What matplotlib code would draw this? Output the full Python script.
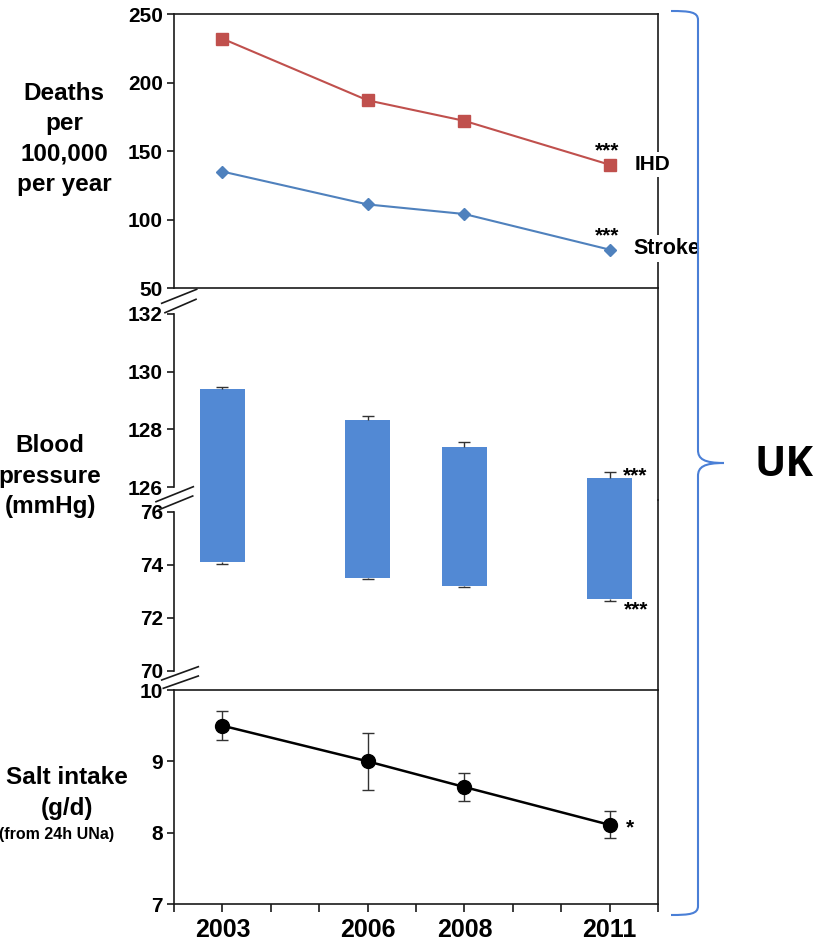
import matplotlib
matplotlib.use('Agg')
import matplotlib.pyplot as plt
import numpy as np
from matplotlib.path import Path
from matplotlib.patches import PathPatch
from matplotlib.lines import Line2D

plt.rcParams['font.family'] = ['Liberation Sans', 'DejaVu Sans']
plt.rcParams['font.weight'] = 'bold'

# ---------------- data ----------------
years = [2003, 2006, 2008, 2011]
year_labels = ['2003', '2006', '2008', '2011']
ihd = [232, 187, 172, 140]
stroke = [135, 111, 104, 78]
sbp = [129.39, 128.33, 127.40, 126.33]
sbp_err = [0.09, 0.14, 0.17, 0.19]
dbp = [74.12, 73.51, 73.21, 72.71]
dbp_err = [0.07, 0.06, 0.06, 0.08]
salt = [9.5, 9.0, 8.64, 8.11]
salt_err = [0.2, 0.4, 0.2, 0.19]

W, H = 818, 943
fig = plt.figure(figsize=(W / 100, H / 100), dpi=100)


def rect(x0, y0, x1, y1):
    return [x0 / W, 1 - y1 / H, (x1 - x0) / W, (y1 - y0) / H]


def P(x, y):
    return (x / W, 1 - y / H)


SPC = '#1a1a1a'
LW = 1.2
TICKFS = 15

ax1 = fig.add_axes(rect(174, 14, 658, 288))
ax2 = fig.add_axes(rect(174, 288, 658, 500))
ax3 = fig.add_axes(rect(174, 500, 658, 690))
ax4 = fig.add_axes(rect(174, 690, 658, 904))

for ax in (ax1, ax2, ax3, ax4):
    ax.set_xlim(2002, 2012)
    ax.set_facecolor('none')
    for s in ax.spines.values():
        s.set_color(SPC)
        s.set_linewidth(LW)
    ax.tick_params(axis='y', direction='out', length=5, width=LW, labelsize=TICKFS,
                   pad=3, colors=SPC, labelcolor='black')
    ax.tick_params(axis='x', bottom=False, labelbottom=False)

# ---------- top panel: deaths ----------
ax1.set_ylim(50, 250)
ax1.set_yticks([50, 100, 150, 200, 250])
ax1.plot(years, ihd, color='#c0504d', lw=1.5, marker='s', ms=8, zorder=3)
ax1.plot(years, stroke, color='#4f81bd', lw=1.5, marker='D', ms=6, zorder=3)
ax1.annotate('***', (years[-1], ihd[-1]), xytext=(-2, 10), textcoords='offset points',
             ha='center', va='center', fontsize=15)
ax1.annotate('***', (years[-1], stroke[-1]), xytext=(-2, 10), textcoords='offset points',
             ha='center', va='center', fontsize=15)
ax1.annotate('IHD', (years[-1], ihd[-1]), xytext=(18, 0), textcoords='offset points',
             ha='left', va='center', fontsize=15, annotation_clip=False,
             bbox=dict(facecolor='white', edgecolor='none', pad=2), zorder=5)
ax1.annotate('Stroke', (years[-1], stroke[-1]), xytext=(17, 1), textcoords='offset points',
             ha='left', va='center', fontsize=15.5, annotation_clip=False,
             bbox=dict(facecolor='white', edgecolor='none', pad=2), zorder=5)

# ---------- middle panel: blood pressure (broken axis) ----------
BARC = '#5289d4'
heights = np.array(sbp) - np.array(dbp)
zeros = np.zeros(len(years))

ax2.set_ylim(125.55, 132.90)
ax2.set_yticks([126, 128, 130, 132])
ax2.spines['top'].set_visible(False)
ax2.spines['bottom'].set_visible(False)
ax2.spines['left'].set_bounds(126, 132)
ax2.bar(years, heights, bottom=dbp, width=0.93, color=BARC, zorder=2)
eb = ax2.errorbar(years, sbp, yerr=[zeros, sbp_err], fmt='none', ecolor='#333333',
                  elinewidth=1, capsize=4, capthick=1, zorder=3)
eb[1][0].set_visible(False)
ax2.annotate('***', (years[-1], sbp[-1] + sbp_err[-1]), xytext=(18, -3),
             textcoords='offset points', ha='center', va='center', fontsize=15,
             annotation_clip=False)

ax3.set_ylim(69.28, 76.45)
ax3.set_yticks([70, 72, 74, 76])
ax3.spines['top'].set_visible(False)
ax3.spines['bottom'].set_visible(False)
ax3.spines['left'].set_bounds(70, 76)
ax3.bar(years, heights, bottom=dbp, width=0.93, color=BARC, zorder=2)
eb = ax3.errorbar(years, dbp, yerr=[dbp_err, zeros], fmt='none', ecolor='#333333',
                  elinewidth=1, capsize=4, capthick=1, zorder=3)
eb[1][1].set_visible(False)
ax3.annotate('***', (years[-1], dbp[-1] - dbp_err[-1]), xytext=(19, -6),
             textcoords='offset points', ha='center', va='center', fontsize=15,
             annotation_clip=False)

# ---------- bottom panel: salt ----------
ax4.set_ylim(7, 10)
ax4.set_yticks([7, 8, 9, 10])
ax4.errorbar(years, salt, yerr=salt_err, color='black', lw=1.8, marker='o', ms=10,
             ecolor='#333333', elinewidth=1, capsize=4, capthick=1, zorder=3)
ax4.annotate('*', (years[-1], salt[-1]), xytext=(15, -2), textcoords='offset points',
             ha='center', va='center', fontsize=15)
all_years = list(range(2002, 2013))
ax4.set_xticks(all_years)
ax4.set_xticklabels([year_labels[years.index(y)] if y in years else '' for y in all_years])
ax4.tick_params(axis='x', bottom=True, labelbottom=True, direction='out', length=6,
                width=LW, labelsize=18, pad=4, colors=SPC, labelcolor='black')

# ---------- axis-break marks ----------
breaks = [((161.7, 303.3), (196.7, 289.3)), ((165, 312.7), (196, 299.3)),
          ((156, 501.7), (193.3, 486.7)), ((158.3, 510), (192.7, 496)),
          ((161.7, 680), (198.3, 666.7)), ((163.3, 688.3), (198.3, 676))]
for (a, b) in breaks:
    pa, pb = P(*a), P(*b)
    fig.add_artist(Line2D([pa[0], pb[0]], [pa[1], pb[1]], transform=fig.transFigure,
                          color=SPC, lw=1.2))

# ---------- left labels ----------
fig.text(64 / W, 1 - 139 / H, 'Deaths\nper\n100,000\nper year', ha='center', va='center',
         fontsize=17.5, linespacing=1.4)
fig.text(50 / W, 1 - 476 / H, 'Blood\npressure\n(mmHg)', ha='center', va='center',
         fontsize=17.5, linespacing=1.4)
fig.text(67 / W, 1 - 793 / H, 'Salt intake\n(g/d)', ha='center', va='center',
         fontsize=17.5, linespacing=1.4)
fig.text(57 / W, 1 - 834 / H, '(from 24h UNa)', ha='center', va='center', fontsize=11.5)

# ---------- brace and UK ----------
verts = [P(671, 11), P(690, 11), P(698, 12), P(698, 20),
         P(698, 450),
         P(698, 459), P(704, 463), P(724, 463),
         P(704, 463), P(698, 467), P(698, 476),
         P(698, 906),
         P(698, 914), P(690, 915), P(671, 915)]
codes = [Path.MOVETO, Path.CURVE4, Path.CURVE4, Path.CURVE4,
         Path.LINETO,
         Path.CURVE4, Path.CURVE4, Path.CURVE4,
         Path.CURVE4, Path.CURVE4, Path.CURVE4,
         Path.LINETO,
         Path.CURVE4, Path.CURVE4, Path.CURVE4]
fig.add_artist(PathPatch(Path(verts, codes), transform=fig.transFigure, fill=False,
                         edgecolor='#4a7fd6', lw=1.5, zorder=10))
fig.text(784 / W, 1 - 465 / H, 'UK', ha='center', va='center', fontsize=30,
         family=['Open Sans', 'DejaVu Sans'], weight='bold')

fig.savefig('out.png', dpi=100)
